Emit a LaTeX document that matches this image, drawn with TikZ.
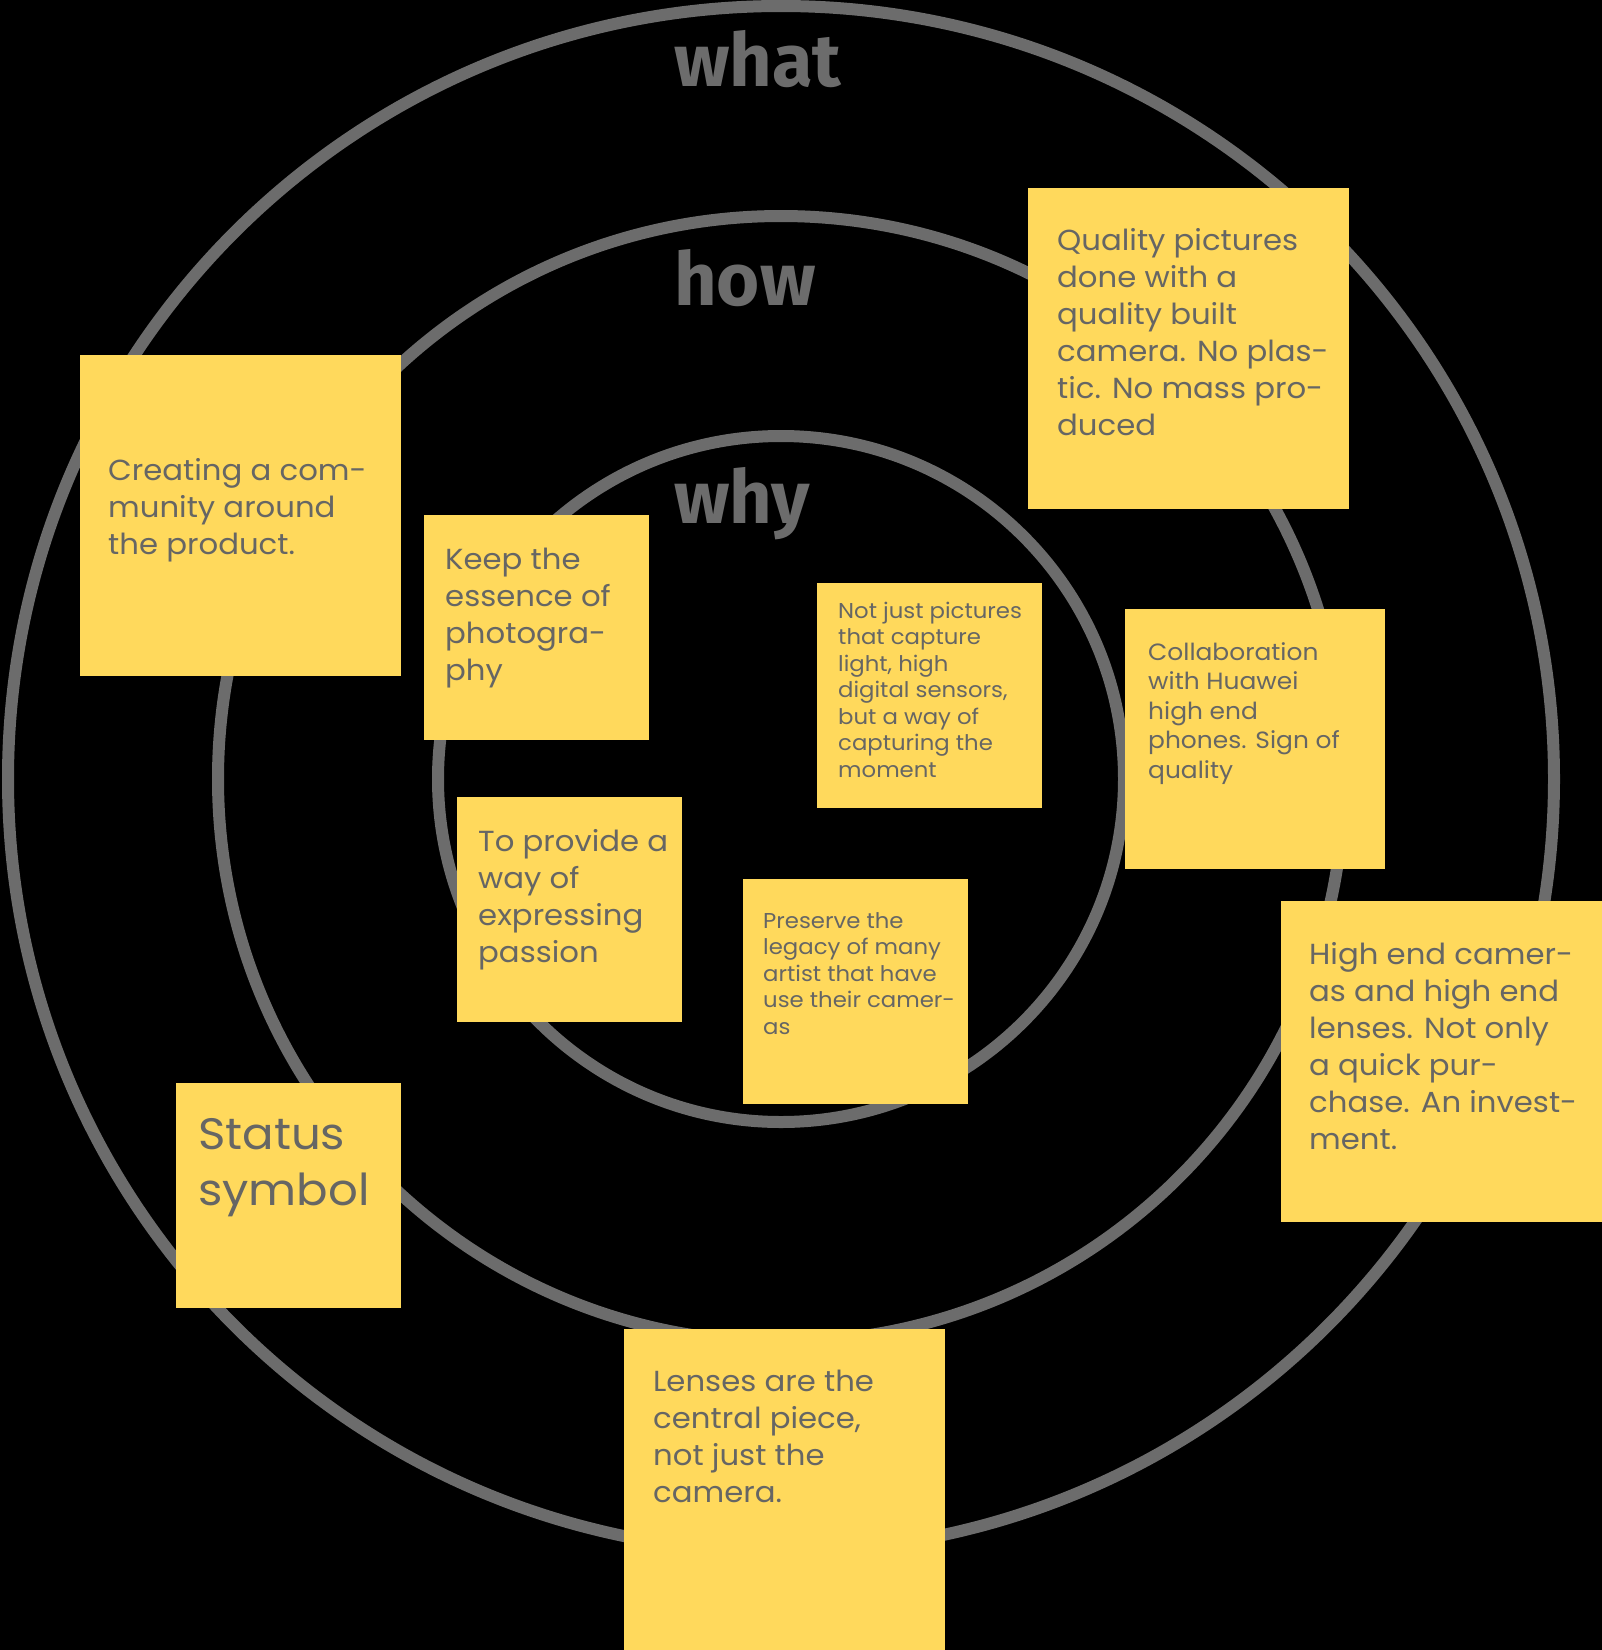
\documentclass[tikz,border=0pt]{standalone}
\usepackage{fontspec}
\setmainfont{Poppins}[FakeStretch=1.06]
\newfontfamily\headfont{Fira Sans}
\usetikzlibrary{positioning}
\definecolor{RingGray}{RGB}{108,108,108}
\definecolor{NoteYellow}{RGB}{255,217,92}
\definecolor{NoteInk}{RGB}{102,102,100}
\tikzset{
  ring/.style      ={draw=RingGray, line width=12pt},
  ringlabel/.style ={anchor=base west, text=RingGray, inner sep=0pt,
                     font=\headfont\bfseries\fontsize{74}{74}\selectfont},
  note/.style      ={rectangle, fill=NoteYellow, anchor=north west,
                     minimum size=#1, inner sep=0pt},
  % text nodes are anchored on the baseline of their last line
  notetext/.style  ={anchor=base west, align=left, text=NoteInk, inner sep=0pt,
                     font=\fontsize{29}{37}\selectfont},
  notetextmid/.style={notetext, font=\fontsize{23.5}{29.5}\selectfont},
  notetextsm/.style={notetext, font=\fontsize{21.5}{26.5}\selectfont},
  notetextbig/.style={notetext, font=\fontsize{44}{56}\selectfont},
}

\begin{document}
\begin{tikzpicture}[x=1pt,y=-1pt]
  \useasboundingbox (0,0) rectangle (1602,1650);
  \fill[black] (0,0) rectangle (1602,1650);
  % rings
  \coordinate (c) at (781,779);
  \draw[ring] (c) circle[radius=773pt];
  \draw[ring] (c) circle[radius=563pt];
  \draw[ring] (c) circle[radius=343pt];
  \node[ringlabel] (what) at (674,86) {what};
  \node[ringlabel] (how) at (674,305) {how};
  \node[ringlabel] (why) at (674,523) {why};
  % notes
  \node[note=321pt] (quality) at (1028,188) {};
  \node[notetext] (qualityt) at ([shift={(29,247)}]quality.north west)
       {Quality pictures\\done with a\\quality built\\camera. No plas-\\tic. No mass pro-\\duced};
  \node[note=321pt] (community) at (80,355) {};
  \node[notetext] (communityt) at ([shift={(28,199)}]community.north west)
       {Creating a com-\\munity around\\the product.};
  \node[note=225pt] (essence) at (424,515) {};
  \node[notetext] (essencet) at ([shift={(21,165)}]essence.north west)
       {Keep the\\essence of\\photogra-\\phy};
  \node[note=225pt] (moment) at (817,583) {};
  \node[notetextsm] (momentt) at ([shift={(21,194)}]moment.north west)
       {Not just pictures\\that capture\\light, high\\digital sensors,\\but a way of\\capturing the\\moment};
  \node[note=260pt] (huawei) at (1125,609) {};
  \node[notetextmid] (huaweit) at ([shift={(23,169)}]huawei.north west)
       {Collaboration\\with Huawei\\high end\\phones. Sign of\\quality};
  \node[note=225pt] (passion) at (457,797) {};
  \node[notetext] (passiont) at ([shift={(21,165)}]passion.north west)
       {To provide a\\way of\\expressing\\passion};
  \node[note=225pt] (legacy) at (743,879) {};
  \node[notetextsm] (legacyt) at ([shift={(20,155)}]legacy.north west)
       {Preserve the\\legacy of many\\artist that have\\use their camer-\\as};
  \node[note=321pt] (investment) at (1281,901) {};
  \node[notetext] (investmentt) at ([shift={(28,248)}]investment.north west)
       {High end camer-\\as and high end\\lenses. Not only\\a quick pur-\\chase. An invest-\\ment.};
  \node[note=225pt] (status) at (176,1083) {};
  \node[notetextbig] (statust) at ([shift={(22,122)}]status.north west)
       {Status\\symbol};
  \node[note=321pt] (lenses) at (624,1329) {};
  \node[notetext] (lensest) at ([shift={(29,173)}]lenses.north west)
       {Lenses are the\\central piece,\\not just the\\camera.};
\end{tikzpicture}
\end{document}
